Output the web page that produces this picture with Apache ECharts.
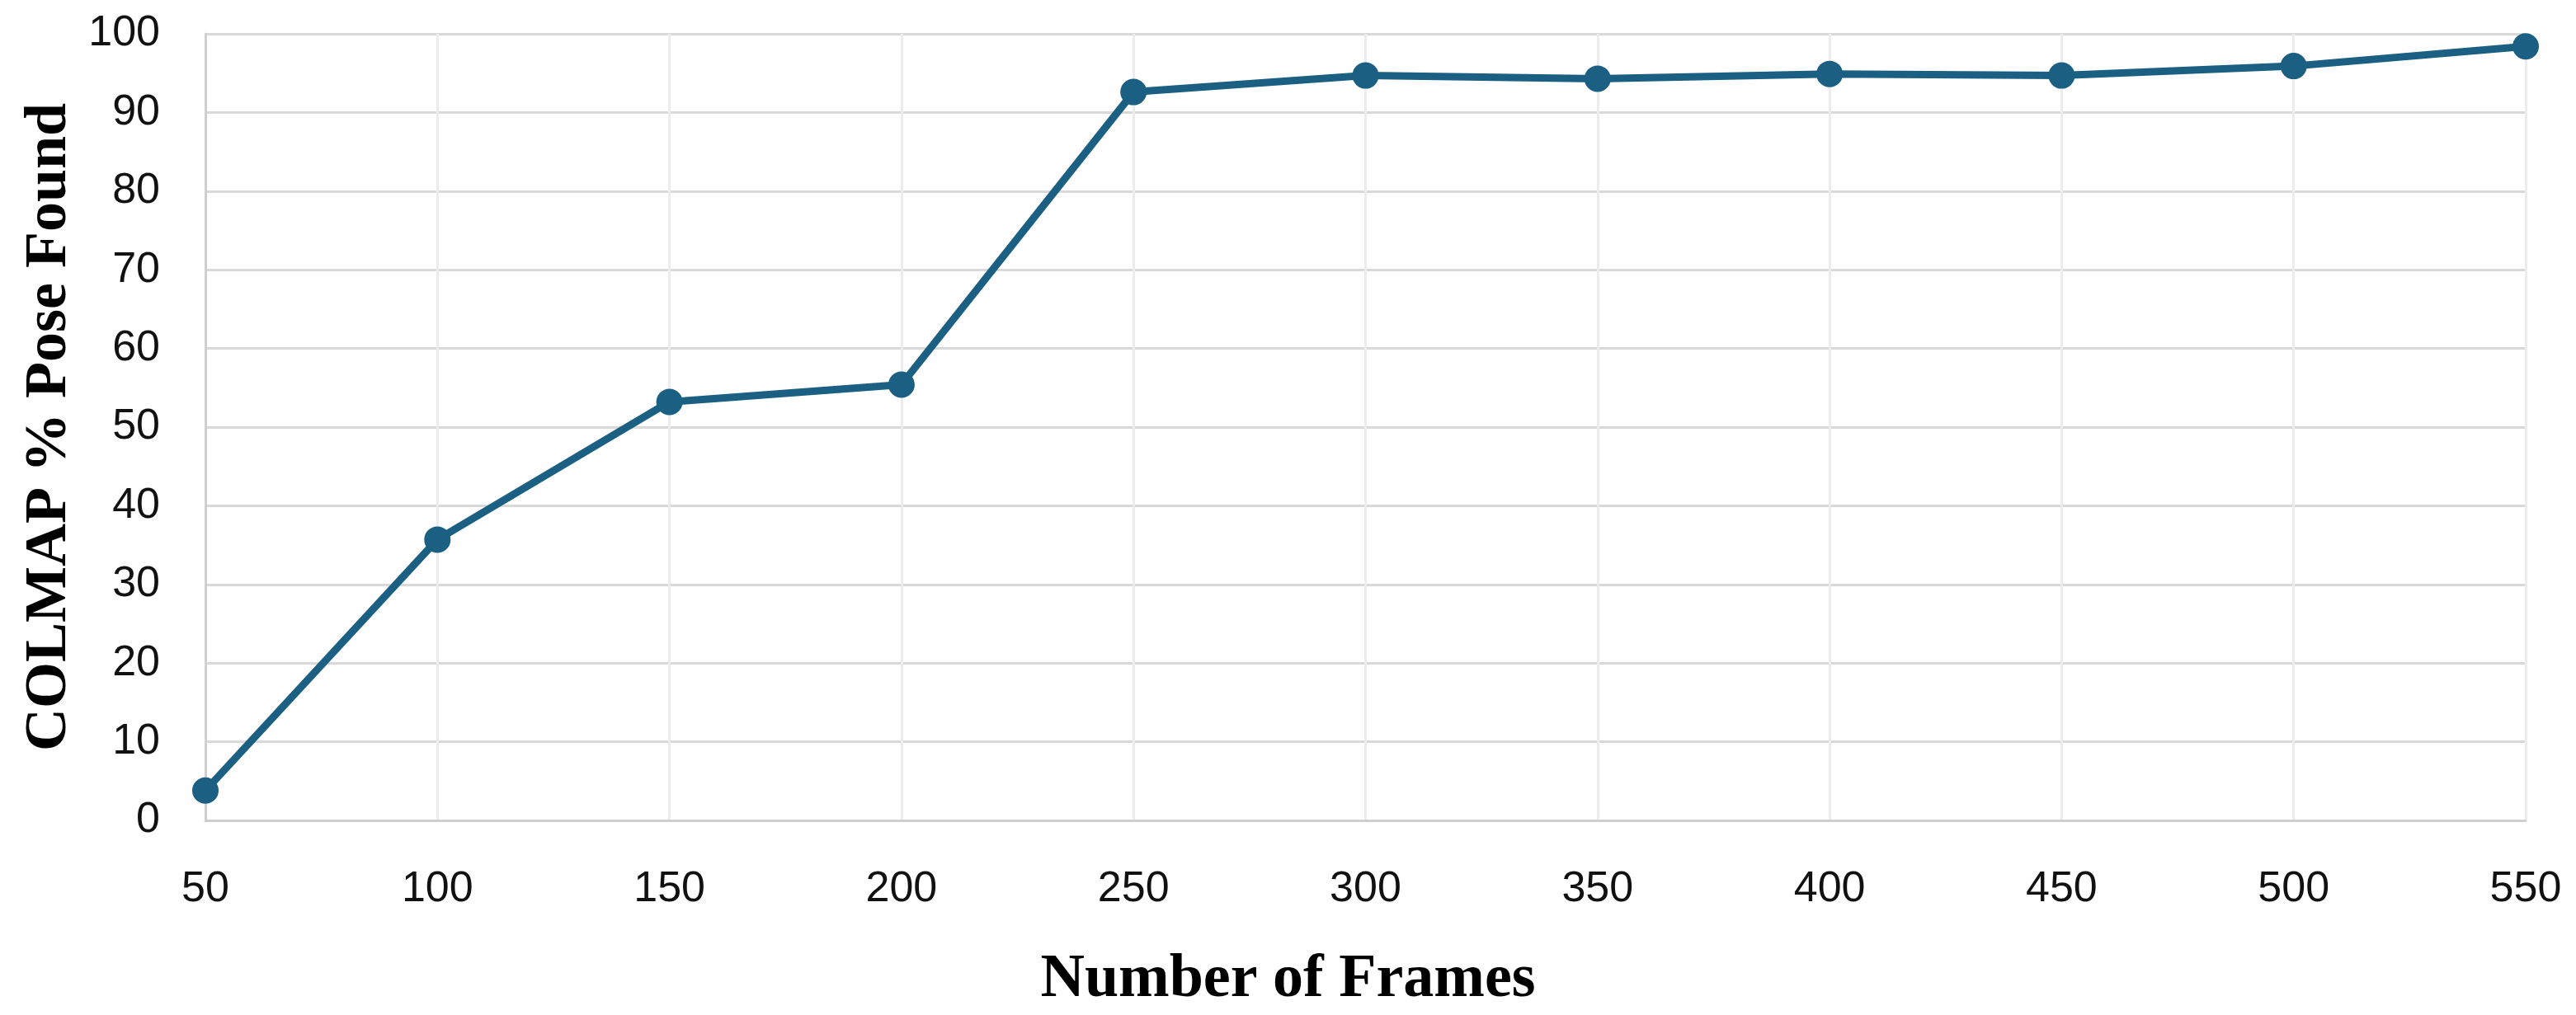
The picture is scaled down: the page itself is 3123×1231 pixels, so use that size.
<!DOCTYPE html>
<html>
<head>
<meta charset="utf-8">
<script src="https://cdn.jsdelivr.net/npm/echarts@6/dist/echarts.min.js"></script>
<style>
    html, body {margin:0;padding:0;background:#fff;}
    #chart {width:3123px;height:1231px;}
</style>
</head>
<body>
<div id="chart"></div>
<script>
    // frame counts on the x axis
    var frames = [50, 100, 150, 200, 250, 300, 350, 400, 450, 500, 550]
    // percentage of poses COLMAP found
    var poseFound = [3.8, 35.7, 53.2, 55.4, 92.6, 94.7, 94.3, 94.9, 94.7, 95.9, 98.4]

    var lineColor = '#1B5F82'
    var tickFont = "'Liberation Sans', Arial, sans-serif"
    var chart = echarts.init(document.getElementById('chart'))

    var option = {
        backgroundColor: '#ffffff',
        animation: false,
        // x title is centred on the whole chart, not the plot
        title: {
            text: 'Number of Frames',
            left: 'center',
            top: 1152,
            padding: 0,
            textStyle: {
                fontFamily: 'Liberation Serif',
                fontWeight: 'bold',
                fontSize: 74,
                color: '#000'
            }
        },
        grid: {
            left: 249,
            right: 61,
            top: 41,
            bottom: 236,
            outerBoundsMode: 'none'
        },
        xAxis: {
            type: 'value',
            min: 50,
            max: 550,
            interval: 50,
            axisLine: {show: true, lineStyle: {color: '#cfcfcf', width: 3}},
            axisTick: {show: false},
            axisLabel: {
                margin: 58,
                fontFamily: tickFont,
                fontSize: 52,
                color: '#111'
            },
            splitLine: {show: true, lineStyle: {color: '#ececec', width: 3}}
        },
        yAxis: {
            type: 'value',
            min: 0,
            max: 100,
            interval: 10,
            name: 'COLMAP % Pose Found',
            nameLocation: 'middle',
            nameGap: 150,
            nameTextStyle: {
                fontFamily: 'Liberation Serif',
                fontWeight: 'bold',
                fontSize: 72,
                color: '#000'
            },
            axisLine: {show: true, lineStyle: {color: '#cfcfcf', width: 3}},
            axisTick: {show: false},
            axisLabel: {
                margin: 55,
                fontFamily: tickFont,
                fontSize: 52,
                color: '#111'
            },
            splitLine: {show: true, lineStyle: {color: '#d9d9d9', width: 3}}
        },
        series: [
            {
                type: 'line',
                data: frames.map(function (f, i) { return [f, poseFound[i]] }),
                symbol: 'circle',
                symbolSize: 32,
                lineStyle: {color: lineColor, width: 9},
                itemStyle: {color: lineColor},
                clip: false
            }
        ]
    }

    chart.setOption(option)
</script>
</body>
</html>
